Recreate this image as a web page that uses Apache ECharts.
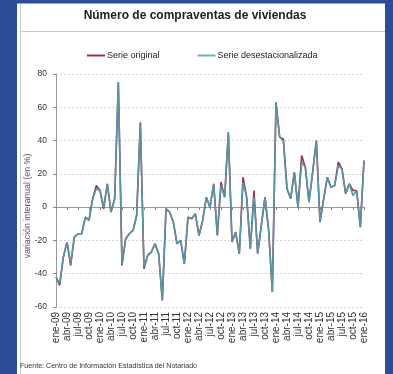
<!DOCTYPE html>
<html><head><meta charset="utf-8">
<script src="https://cdn.jsdelivr.net/npm/echarts@6/dist/echarts.min.js"></script>
<style>html,body{margin:0;padding:0;background:#2B4C97;}#c{width:393px;height:374px;}</style>
</head><body><div id="c"></div>
<script>
const monthNames = ['ene','feb','mar','abr','may','jun','jul','ago','sep','oct','nov','dic'];
const years = ['09','10','11','12','13','14','15','16'];
const categories = [];
years.forEach(function (y) { monthNames.forEach(function (m) { categories.push(m + '-' + y); }); });
categories.length = 85; // ene-09 .. ene-16

const serieDesestacionalizada = [
  -42,-46,-30,-21,-34,-18,-16,-16,-6,-8,
  5,11,10,0,14,-3,5,75,-34,-19,
  -16,-14,-5,50,-36,-29,-27,-22,-28,-56,
  -1,-3,-9,-22,-20,-34,-6,-7,-4,-17,
  -8,6,0,14,-16,13,6,45,-21,-15,
  -28,15,6,-25,6,-28,-11,6,-14,-51,
  63,42,40,11,5,21,0,27,24,3,
  21,40,-9,5,18,12,13,25,23,8,
  14,7,10,-12,28
];
const serieOriginal = [
  -42,-47,-30,-21,-35,-18,-16,-16,-6,-8,
  5,13,10,-1,14,-3,5,75,-35,-19,
  -16,-14,-5,51,-37,-29,-27,-22,-28,-56,
  -1,-3,-9,-22,-20,-34,-6,-7,-4,-17,
  -8,6,0,14,-17,15,6,45,-21,-15,
  -28,18,6,-25,10,-28,-11,6,-14,-51,
  63,42,41,11,5,21,0,31,24,3,
  21,40,-9,5,18,12,13,27,23,8,
  14,10,10,-12,28
];
const yTicks = [-60,-40,-20,0,20,40,60,80];

const FONT = 'Liberation Sans, Arial, sans-serif';
const chart = echarts.init(document.getElementById('c'), null, {renderer: 'canvas'});
chart.setOption({
  animation: false,
  backgroundColor: 'transparent',
  graphic: [
    {type: 'rect', shape: {x: 17, y: 3.5, width: 368, height: 380}, style: {fill: '#ffffff'}, z: -10},
    {type: 'line', shape: {x1: 20.5, y1: 3.5, x2: 20.5, y2: 374}, style: {stroke: '#c8ccd0', lineWidth: 1}, z: -5},
    {type: 'line', shape: {x1: 20.5, y1: 31.5, x2: 385, y2: 31.5}, style: {stroke: '#c8ccd0', lineWidth: 1}, z: -5},
    {type: 'text', x: 195, y: 16, style: {text: 'Número de compraventas de viviendas', font: 'bold 12px ' + FONT, fill: '#222', textAlign: 'center', textVerticalAlign: 'middle'}},
    {type: 'text', x: 28, y: 206, rotation: Math.PI / 2, style: {text: 'variación interanual (en %)', font: '8.8px ' + FONT, fill: '#555', textAlign: 'center', textVerticalAlign: 'middle'}},
    {type: 'text', x: 20, y: 366, style: {text: 'Fuente: Centro de Información Estadística del Notariado', font: '7.1px ' + FONT, fill: '#333', textAlign: 'left', textVerticalAlign: 'middle'}}
  ],
  legend: {
    data: ['Serie original', 'Serie desestacionalizada'],
    left: 87, top: 51, padding: 0,
    icon: 'rect', itemWidth: 18, itemHeight: 2, itemGap: 38,
    textStyle: {fontSize: 9, color: '#222', fontFamily: FONT, padding: [0, 0, 0, -3]}
  },
  grid: {left: 56, right: 29, top: 74, bottom: 67},
  xAxis: [
    {
      type: 'category', data: categories, boundaryGap: false,
      axisLine: {onZero: true, lineStyle: {color: '#999', width: 1}},
      axisTick: {show: true, interval: 2, length: 3, lineStyle: {color: '#888'}},
      axisLabel: {show: false},
      splitLine: {show: false}
    },
    {
      type: 'category', data: categories, boundaryGap: false, position: 'bottom',
      axisLine: {show: false, onZero: false},
      axisTick: {show: false},
      axisLabel: {interval: 2, rotate: 90, fontSize: 10, color: '#333', fontFamily: FONT, margin: 5},
      splitLine: {show: false}
    }
  ],
  yAxis: {
    type: 'value', min: yTicks[0], max: yTicks[yTicks.length - 1], interval: 20,
    axisLine: {show: true, lineStyle: {color: '#999'}},
    axisTick: {show: true, length: 3, lineStyle: {color: '#888'}},
    axisLabel: {fontSize: 8.5, color: '#333', fontFamily: FONT, margin: 9},
    splitLine: {show: true, lineStyle: {color: '#d4d4d4', type: [2, 2], width: 1}}
  },
  series: [
    {name: 'Serie original', type: 'line', data: serieOriginal, xAxisIndex: 0,
     showSymbol: false, symbol: 'none', lineStyle: {color: '#9E2F4F', width: 1.6}, itemStyle: {color: '#9E2F4F'}, z: 2},
    {name: 'Serie desestacionalizada', type: 'line', data: serieDesestacionalizada, xAxisIndex: 0,
     showSymbol: false, symbol: 'none', lineStyle: {color: '#5596A6', width: 1.6}, itemStyle: {color: '#6FB0BD'}, z: 3}
  ]
});
</script>
</body></html>
